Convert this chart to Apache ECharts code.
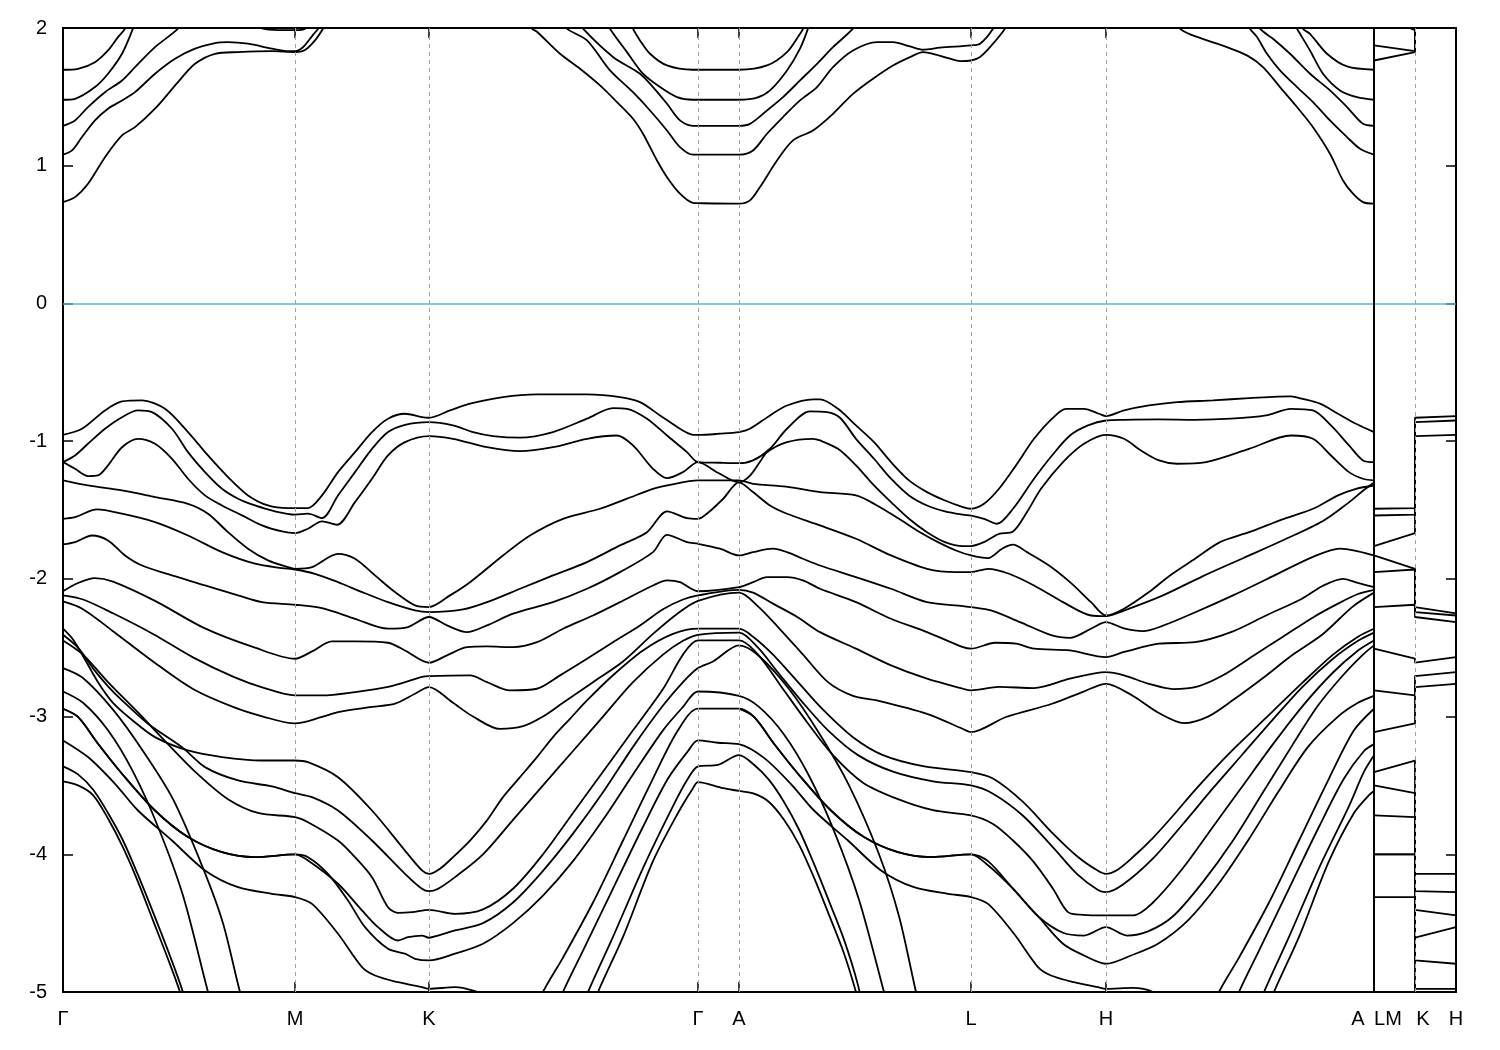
<!DOCTYPE html>
<html><head><meta charset="utf-8">
<script src="https://cdn.jsdelivr.net/npm/echarts@6/dist/echarts.min.js"></script>
<style>html,body{margin:0;padding:0;background:#fff}#chart{width:1500px;height:1050px}</style>
</head><body><div id="chart"></div>
<script>
// k-path positions of high-symmetry points (path distance units)
const kTicks = [0, 232, 366, 635, 676, 908, 1043, 1311, 1352, 1393];
const kGrid = [232, 366, 635, 676, 908, 1043, 1352];
const kBreak = 1311;
const kLabelPos = [0, 232, 366, 635, 676, 908, 1043, 1295, 1325, 1360, 1393];
const kLabelText = ['Γ', 'M', 'K', 'Γ', 'A', 'L', 'H', 'A', 'LM', 'K', 'H'];

// conduction bands (Γ-M-K-Γ-A-L-H-A), energies in eV
const cb1 = [[0,0.736],[12,0.772],[25,0.869],[42,1.062],[59,1.22],[72,1.28],[92,1.414],[115,1.607],[132,1.74],[152,1.813],[175,1.825],[209,1.832],[232,1.825],[242,1.84],[252,1.91],[260,1.995],[268,2.1],[366,2.5],[460,2.1],[469,1.995],[474,1.973],[497,1.813],[517,1.704],[537,1.583],[554,1.462],[570,1.341],[580,1.232],[594,1.038],[604,0.917],[617,0.797],[630,0.73],[635,0.728],[676,0.724],[687,0.748],[697,0.845],[714,1.038],[730,1.184],[750,1.256],[770,1.377],[790,1.522],[810,1.632],[830,1.728],[847,1.789],[860,1.825],[870,1.813],[887,1.777],[897,1.76],[908,1.764],[917,1.79],[927,1.861],[942,1.995],[950,2.1],[1043,2.5],[1110,2.1],[1117,1.995],[1130,1.946],[1144,1.91],[1164,1.861],[1184,1.801],[1200,1.716],[1217,1.571],[1234,1.426],[1250,1.28],[1267,1.087],[1280,0.893],[1290,0.797],[1300,0.736],[1311,0.724]];
const cb2 = [[0,1.08],[9,1.111],[19,1.208],[32,1.329],[45,1.414],[59,1.474],[72,1.534],[92,1.668],[112,1.777],[132,1.85],[152,1.891],[165,1.898],[185,1.886],[209,1.85],[225,1.832],[232,1.832],[240,1.86],[250,1.95],[258,2.02],[265,2.1],[366,2.5],[495,2.1],[504,1.995],[524,1.91],[547,1.692],[570,1.534],[587,1.401],[604,1.256],[617,1.135],[630,1.08],[635,1.08],[676,1.08],[690,1.111],[704,1.232],[720,1.353],[737,1.474],[754,1.571],[770,1.716],[790,1.837],[814,1.898],[830,1.898],[847,1.866],[860,1.842],[877,1.857],[908,1.874],[917,1.886],[930,1.995],[936,2.1],[1043,2.5],[1180,2.1],[1187,1.995],[1194,1.934],[1204,1.813],[1217,1.692],[1234,1.571],[1250,1.462],[1267,1.329],[1284,1.208],[1297,1.123],[1311,1.08]];
const cb3 = [[0,1.29],[12,1.329],[25,1.426],[42,1.534],[59,1.619],[72,1.716],[92,1.861],[115,1.995],[125,2.1],[366,2.5],[510,2.1],[520,1.995],[550,1.79],[577,1.668],[590,1.571],[604,1.45],[617,1.329],[630,1.29],[635,1.29],[676,1.29],[687,1.304],[704,1.401],[720,1.498],[737,1.619],[754,1.74],[770,1.861],[790,1.995],[800,2.1],[1043,2.5],[1190,2.1],[1197,1.995],[1210,1.922],[1227,1.813],[1247,1.668],[1267,1.547],[1284,1.426],[1300,1.304],[1311,1.29]];
const cb4 = [[0,1.479],[12,1.486],[32,1.571],[45,1.668],[59,1.813],[70,1.995],[76,2.1],[366,2.5],[540,2.1],[547,1.995],[564,1.825],[580,1.668],[597,1.571],[614,1.498],[630,1.479],[635,1.479],[676,1.479],[694,1.494],[707,1.547],[724,1.692],[737,1.85],[745,1.995],[750,2.1],[1043,2.5],[1228,2.1],[1234,1.995],[1237,1.958],[1247,1.837],[1260,1.668],[1277,1.547],[1294,1.498],[1311,1.479]];
const cb5 = [[0,1.697],[15,1.704],[32,1.752],[45,1.837],[55,1.934],[62,1.995],[66,2.1],[366,2.5],[565,2.1],[570,1.995],[577,1.91],[587,1.813],[604,1.728],[630,1.697],[635,1.697],[676,1.697],[704,1.728],[724,1.825],[737,1.958],[740,1.995],[744,2.1],[1043,2.5],[1236,2.1],[1240,1.995],[1247,1.958],[1264,1.813],[1284,1.721],[1311,1.697]];
const cb6 = [[180,2.1],[200,1.995],[215,1.985],[232,1.985],[242,1.995],[250,2.1]];

// valence bands
const vb1 = [[0,-0.954],[19,-0.91],[42,-0.777],[59,-0.712],[79,-0.704],[102,-0.765],[125,-0.934],[145,-1.104],[165,-1.261],[185,-1.394],[205,-1.467],[225,-1.486],[232,-1.486],[245,-1.486],[259,-1.394],[275,-1.225],[292,-1.08],[309,-0.934],[325,-0.837],[342,-0.801],[359,-0.826],[366,-0.83],[387,-0.777],[407,-0.728],[440,-0.68],[474,-0.661],[524,-0.661],[557,-0.68],[577,-0.717],[597,-0.813],[617,-0.91],[630,-0.954],[635,-0.955],[657,-0.946],[676,-0.934],[687,-0.91],[707,-0.813],[724,-0.741],[750,-0.697],[757,-0.697],[775,-0.765],[793,-0.886],[811,-1.007],[828,-1.152],[846,-1.285],[864,-1.37],[882,-1.431],[900,-1.479],[908,-1.491],[921,-1.455],[936,-1.346],[953,-1.176],[971,-0.983],[989,-0.837],[1003,-0.765],[1021,-0.765],[1036,-0.801],[1043,-0.818],[1061,-0.777],[1086,-0.741],[1114,-0.717],[1150,-0.704],[1186,-0.688],[1228,-0.675],[1239,-0.692],[1257,-0.728],[1275,-0.801],[1293,-0.874],[1311,-0.934]];
const vb2 = [[0,-1.152],[12,-1.104],[25,-1.019],[42,-0.91],[59,-0.826],[75,-0.777],[89,-0.789],[109,-0.91],[125,-1.08],[142,-1.225],[159,-1.346],[175,-1.418],[192,-1.467],[212,-1.51],[232,-1.534],[245,-1.527],[259,-1.559],[275,-1.394],[292,-1.225],[309,-1.056],[325,-0.934],[342,-0.881],[366,-0.862],[390,-0.886],[410,-0.934],[430,-0.963],[457,-0.975],[490,-0.934],[524,-0.837],[550,-0.76],[564,-0.765],[584,-0.837],[604,-0.959],[624,-1.08],[635,-1.152],[657,-1.157],[676,-1.16],[690,-1.14],[707,-1.055],[724,-0.91],[747,-0.784],[764,-0.789],[777,-0.83],[793,-0.983],[811,-1.128],[828,-1.273],[846,-1.394],[864,-1.467],[882,-1.51],[900,-1.534],[908,-1.54],[921,-1.564],[934,-1.6],[950,-1.491],[971,-1.273],[989,-1.104],[1007,-0.959],[1025,-0.886],[1043,-0.85],[1061,-0.845],[1096,-0.842],[1132,-0.845],[1168,-0.837],[1203,-0.813],[1228,-0.765],[1250,-0.777],[1268,-0.886],[1286,-1.031],[1300,-1.14],[1311,-1.152]];
const vb3 = [[0,-1.152],[12,-1.201],[25,-1.254],[35,-1.249],[45,-1.176],[59,-1.044],[75,-0.983],[92,-1.019],[109,-1.128],[125,-1.273],[142,-1.394],[159,-1.467],[179,-1.539],[199,-1.612],[219,-1.656],[232,-1.668],[245,-1.636],[259,-1.583],[274,-1.607],[292,-1.443],[309,-1.273],[325,-1.104],[342,-1.007],[366,-0.963],[390,-0.983],[424,-1.044],[457,-1.073],[490,-1.044],[524,-0.983],[554,-0.959],[570,-1.031],[590,-1.201],[604,-1.269],[620,-1.225],[635,-1.152],[655,-1.23],[676,-1.3],[687,-1.25],[697,-1.15],[704,-1.08],[724,-1.007],[750,-0.983],[757,-0.995],[775,-1.056],[793,-1.176],[811,-1.322],[828,-1.443],[846,-1.564],[864,-1.661],[882,-1.733],[900,-1.762],[908,-1.762],[921,-1.733],[936,-1.673],[950,-1.656],[964,-1.515],[978,-1.346],[1000,-1.152],[1021,-1.019],[1043,-0.954],[1061,-0.983],[1078,-1.068],[1096,-1.14],[1114,-1.164],[1143,-1.152],[1186,-1.056],[1228,-0.959],[1250,-0.983],[1268,-1.104],[1286,-1.225],[1300,-1.273],[1311,-1.285]];
const vb4 = [[0,-1.285],[25,-1.322],[59,-1.358],[92,-1.406],[125,-1.455],[145,-1.527],[165,-1.661],[185,-1.781],[205,-1.866],[225,-1.915],[232,-1.927],[249,-1.915],[275,-1.818],[292,-1.854],[312,-1.975],[332,-2.096],[352,-2.193],[366,-2.205],[387,-2.12],[407,-2.024],[440,-1.83],[467,-1.685],[500,-1.564],[537,-1.491],[564,-1.418],[590,-1.346],[607,-1.317],[635,-1.285],[676,-1.285],[690,-1.31],[723,-1.33],[757,-1.37],[793,-1.394],[814,-1.467],[836,-1.564],[857,-1.661],[875,-1.733],[893,-1.794],[908,-1.83],[925,-1.849],[939,-1.781],[950,-1.752],[964,-1.806],[986,-1.903],[1007,-2.024],[1028,-2.169],[1043,-2.266],[1061,-2.217],[1086,-2.096],[1107,-1.975],[1132,-1.854],[1157,-1.733],[1186,-1.661],[1221,-1.564],[1250,-1.491],[1275,-1.394],[1293,-1.346],[1311,-1.322]];
const vb5 = [[0,-1.564],[12,-1.552],[34,-1.496],[59,-1.527],[92,-1.588],[125,-1.685],[159,-1.806],[192,-1.89],[219,-1.922],[232,-1.932],[252,-1.963],[275,-2.024],[299,-2.096],[325,-2.169],[352,-2.229],[366,-2.242],[400,-2.222],[424,-2.169],[457,-2.072],[490,-1.975],[524,-1.878],[557,-1.757],[584,-1.661],[604,-1.51],[624,-1.559],[635,-1.564],[645,-1.52],[660,-1.42],[676,-1.3],[690,-1.37],[707,-1.467],[724,-1.527],[757,-1.612],[793,-1.709],[828,-1.83],[864,-1.927],[893,-1.951],[908,-1.951],[925,-1.927],[946,-1.963],[971,-2.048],[1000,-2.169],[1028,-2.266],[1043,-2.271],[1061,-2.23],[1100,-2.12],[1140,-1.98],[1180,-1.85],[1220,-1.72],[1260,-1.58],[1285,-1.45],[1300,-1.36],[1311,-1.3]];
const vb6 = [[0,-1.75],[12,-1.733],[29,-1.685],[45,-1.721],[62,-1.83],[79,-1.903],[109,-1.975],[142,-2.048],[175,-2.12],[199,-2.169],[232,-2.188],[259,-2.213],[292,-2.29],[325,-2.362],[345,-2.35],[366,-2.277],[384,-2.338],[404,-2.387],[424,-2.338],[450,-2.253],[490,-2.169],[524,-2.072],[557,-1.951],[590,-1.806],[604,-1.68],[624,-1.733],[635,-1.745],[657,-1.781],[676,-1.83],[690,-1.806],[710,-1.781],[724,-1.806],[740,-1.854],[757,-1.903],[793,-1.987],[828,-2.072],[864,-2.169],[900,-2.198],[908,-2.205],[928,-2.229],[957,-2.314],[989,-2.411],[1007,-2.428],[1028,-2.362],[1043,-2.314],[1061,-2.36],[1080,-2.38],[1100,-2.34],[1130,-2.25],[1170,-2.12],[1210,-1.98],[1250,-1.84],[1277,-1.78],[1295,-1.8],[1311,-1.83]];
const vb7 = [[0,-2.09],[15,-2.03],[32,-1.995],[50,-2.02],[92,-2.16],[142,-2.36],[192,-2.5],[232,-2.58],[249,-2.527],[269,-2.454],[292,-2.454],[325,-2.464],[342,-2.52],[366,-2.609],[384,-2.556],[404,-2.496],[424,-2.491],[450,-2.496],[474,-2.46],[500,-2.362],[530,-2.266],[557,-2.169],[590,-2.048],[604,-2.011],[617,-2.024],[635,-2.09],[676,-2.06],[690,-2.024],[704,-1.987],[724,-1.987],[740,-2.011],[757,-2.072],[793,-2.169],[828,-2.29],[864,-2.387],[900,-2.496],[908,-2.507],[932,-2.464],[953,-2.471],[971,-2.507],[1007,-2.52],[1043,-2.568],[1061,-2.531],[1096,-2.471],[1132,-2.46],[1168,-2.387],[1203,-2.266],[1239,-2.144],[1260,-2.05],[1280,-2.0],[1295,-2.03],[1311,-2.06]];
const vb8 = [[0,-2.12],[20,-2.15],[50,-2.25],[90,-2.4],[130,-2.57],[170,-2.71],[200,-2.79],[232,-2.846],[259,-2.846],[292,-2.822],[325,-2.785],[359,-2.712],[366,-2.706],[407,-2.701],[424,-2.75],[447,-2.81],[474,-2.798],[497,-2.701],[524,-2.58],[550,-2.46],[577,-2.338],[600,-2.22],[620,-2.15],[635,-2.12],[676,-2.08],[690,-2.1],[710,-2.18],[735,-2.28],[757,-2.387],[793,-2.507],[828,-2.628],[864,-2.725],[900,-2.798],[908,-2.81],[936,-2.785],[971,-2.793],[1007,-2.725],[1043,-2.677],[1061,-2.7],[1085,-2.76],[1110,-2.8],[1135,-2.78],[1160,-2.7],[1190,-2.56],[1220,-2.42],[1250,-2.28],[1275,-2.18],[1295,-2.11],[1311,-2.08]];
const vb9 = [[0,-2.164],[20,-2.22],[50,-2.38],[90,-2.6],[130,-2.8],[170,-2.93],[200,-3.0],[232,-3.05],[259,-3.003],[275,-2.967],[309,-2.93],[332,-2.906],[352,-2.834],[366,-2.786],[390,-2.9],[410,-3.0],[437,-3.09],[460,-3.07],[480,-3.0],[500,-2.9],[530,-2.75],[560,-2.6],[590,-2.4],[615,-2.25],[635,-2.16],[676,-2.1],[695,-2.2],[715,-2.35],[740,-2.55],[765,-2.75],[790,-2.85],[814,-2.883],[864,-2.98],[900,-3.09],[908,-3.113],[943,-3.003],[989,-2.907],[1020,-2.82],[1043,-2.762],[1070,-2.85],[1095,-2.97],[1121,-3.047],[1145,-3.0],[1170,-2.88],[1200,-2.72],[1230,-2.55],[1260,-2.4],[1290,-2.2],[1311,-2.1]];
const vb10 = [[0,-2.362],[10,-2.44],[20,-2.56],[35,-2.75],[50,-2.9],[70,-3.03],[92,-3.149],[125,-3.246],[159,-3.294],[199,-3.319],[232,-3.319],[245,-3.331],[275,-3.44],[309,-3.682],[342,-3.973],[359,-4.117],[366,-4.142],[377,-4.105],[390,-4.021],[407,-3.9],[424,-3.754],[440,-3.585],[457,-3.44],[474,-3.294],[490,-3.149],[507,-3.016],[524,-2.883],[550,-2.7],[580,-2.52],[610,-2.4],[635,-2.362],[676,-2.362],[690,-2.42],[710,-2.55],[735,-2.75],[760,-2.95],[790,-3.15],[820,-3.28],[860,-3.36],[908,-3.403],[930,-3.45],[960,-3.62],[990,-3.85],[1015,-4.02],[1035,-4.12],[1043,-4.142],[1055,-4.11],[1070,-4.02],[1090,-3.88],[1110,-3.72],[1130,-3.55],[1150,-3.39],[1170,-3.24],[1190,-3.1],[1210,-2.96],[1240,-2.75],[1270,-2.55],[1295,-2.42],[1311,-2.362]];
const vb11 = [[0,-2.406],[15,-2.5],[30,-2.65],[45,-2.78],[59,-2.882],[85,-3.052],[119,-3.222],[142,-3.367],[175,-3.464],[209,-3.507],[232,-3.556],[249,-3.585],[275,-3.682],[309,-3.9],[342,-4.142],[359,-4.251],[366,-4.268],[375,-4.251],[392,-4.166],[420,-4.0],[450,-3.75],[480,-3.5],[510,-3.25],[540,-3.0],[570,-2.75],[600,-2.55],[620,-2.45],[635,-2.406],[676,-2.39],[695,-2.5],[715,-2.68],[740,-2.9],[765,-3.1],[795,-3.28],[830,-3.4],[870,-3.47],[908,-3.5],[930,-3.56],[960,-3.72],[990,-3.95],[1015,-4.15],[1035,-4.26],[1043,-4.275],[1060,-4.22],[1090,-4.03],[1120,-3.78],[1150,-3.52],[1180,-3.27],[1210,-3.02],[1240,-2.78],[1270,-2.58],[1295,-2.45],[1311,-2.39]];
const vb12 = [[0,-2.447],[20,-2.55],[45,-2.75],[75,-2.97],[105,-3.2],[135,-3.42],[165,-3.6],[195,-3.7],[232,-3.73],[245,-3.767],[275,-3.9],[292,-4.021],[309,-4.166],[325,-4.384],[335,-4.425],[349,-4.42],[366,-4.403],[392,-4.432],[420,-4.4],[450,-4.25],[480,-4.0],[510,-3.7],[540,-3.4],[570,-3.1],[600,-2.8],[620,-2.55],[635,-2.447],[676,-2.447],[695,-2.55],[720,-2.8],[745,-3.05],[770,-3.28],[800,-3.48],[835,-3.6],[870,-3.68],[908,-3.718],[930,-3.78],[950,-3.9],[970,-4.05],[990,-4.25],[1005,-4.42],[1020,-4.44],[1043,-4.444],[1070,-4.444],[1090,-4.35],[1120,-4.1],[1150,-3.8],[1180,-3.5],[1210,-3.2],[1240,-2.92],[1270,-2.68],[1295,-2.52],[1311,-2.447]];
const vb15 = [[0,-2.943],[15,-3.003],[35,-3.197],[59,-3.415],[92,-3.682],[125,-3.875],[159,-3.985],[192,-4.021],[232,-4.001],[245,-4.045],[275,-4.214],[299,-4.408],[315,-4.529],[335,-4.626],[345,-4.602],[359,-4.59],[366,-4.606],[375,-4.59],[392,-4.553],[420,-4.5],[450,-4.35],[480,-4.12],[510,-3.85],[540,-3.55],[570,-3.22],[600,-2.92],[620,-2.75],[635,-2.648],[650,-2.6],[676,-2.483],[696,-2.56],[726,-2.8],[756,-3.12],[786,-3.5],[816,-4.0],[836,-4.45],[853,-5.0],[860,-5.2]];
const vb15b = [[0,-2.943],[15,-3.003],[35,-3.197],[59,-3.415],[92,-3.682],[125,-3.875],[159,-3.985],[192,-4.021],[232,-4.001],[245,-4.021],[265,-4.142],[285,-4.336],[302,-4.529],[325,-4.686],[342,-4.722],[352,-4.759],[366,-4.771],[392,-4.722],[420,-4.65],[450,-4.5],[480,-4.3],[510,-4.05],[540,-3.75],[570,-3.42],[600,-3.1],[620,-2.93],[635,-2.818],[676,-2.85],[696,-2.93],[721,-3.13],[746,-3.43],[771,-3.83],[796,-4.33],[821,-5.0],[830,-5.25]];
const vb16 = [[0,-3.173],[25,-3.294],[52,-3.488],[75,-3.682],[109,-3.9],[142,-4.117],[175,-4.239],[209,-4.287],[232,-4.311],[249,-4.36],[275,-4.577],[299,-4.819],[312,-4.88],[335,-4.929],[359,-4.965],[366,-4.977],[392,-4.965],[410,-4.99],[430,-5.05],[450,-5.2]];
const gm1 = [[0,-2.648],[20,-2.72],[50,-2.95],[80,-3.25],[110,-3.6],[140,-4.1],[160,-4.5],[177,-5.0],[190,-5.3]];
const gm2 = [[0,-2.818],[20,-2.9],[45,-3.1],[70,-3.4],[95,-3.8],[120,-4.3],[145,-5.0],[155,-5.25]];
const gm5 = [[0,-3.362],[15,-3.42],[30,-3.53],[45,-3.7],[60,-3.9],[75,-4.15],[90,-4.42],[105,-4.7],[119,-4.98],[125,-5.15]];
const gm6 = [[0,-3.471],[15,-3.5],[30,-3.57],[45,-3.74],[60,-3.95],[75,-4.2],[90,-4.48],[105,-4.76],[117,-5.0],[122,-5.15]];
const r1 = [[470,-5.2],[480,-5.0],[500,-4.75],[530,-4.35],[560,-3.9],[590,-3.45],[615,-3.1],[635,-2.943],[676,-2.943],[691,-3.003],[711,-3.197],[735,-3.415],[768,-3.682],[801,-3.875],[835,-3.985],[868,-4.021],[908,-4.0],[925,-4.08],[950,-4.25],[975,-4.45],[1000,-4.57],[1021,-4.59],[1043,-4.529],[1064,-4.59],[1085,-4.56],[1110,-4.45],[1140,-4.2],[1170,-3.9],[1200,-3.55],[1230,-3.2],[1255,-2.92],[1280,-2.7],[1300,-2.55],[1311,-2.483]];
const r1b = [[676,-2.943],[691,-3.003],[711,-3.197],[735,-3.415],[768,-3.682],[801,-3.875],[835,-3.985],[868,-4.021],[908,-4.0],[925,-4.05],[950,-4.25],[975,-4.45],[1000,-4.65],[1021,-4.735],[1043,-4.795],[1068,-4.735],[1095,-4.65],[1125,-4.48],[1155,-4.22],[1185,-3.9],[1215,-3.55],[1245,-3.22],[1275,-3.0],[1295,-2.9],[1311,-2.85]];
const r2 = [[490,-5.2],[500,-5.0],[520,-4.7],[550,-4.25],[580,-3.8],[605,-3.45],[625,-3.25],[635,-3.173],[655,-3.19],[676,-3.2],[701,-3.3],[728,-3.49],[751,-3.682],[785,-3.9],[818,-4.117],[851,-4.239],[885,-4.287],[908,-4.311],[925,-4.36],[951,-4.577],[975,-4.819],[988,-4.88],[1011,-4.929],[1035,-4.965],[1043,-4.977],[1070,-4.97],[1090,-5.0],[1110,-5.1]];
const r3 = [[515,-5.2],[525,-5.0],[550,-4.6],[580,-4.1],[610,-3.65],[625,-3.45],[635,-3.362],[655,-3.35],[676,-3.28],[691,-3.35],[706,-3.46],[721,-3.62],[736,-3.82],[751,-4.07],[766,-4.34],[781,-4.62],[795,-4.95],[800,-5.15]];
const r4 = [[525,-5.2],[535,-5.0],[560,-4.6],[590,-4.05],[615,-3.7],[630,-3.52],[635,-3.476],[660,-3.52],[676,-3.54],[691,-3.56],[706,-3.62],[721,-3.75],[736,-3.93],[751,-4.17],[766,-4.44],[781,-4.72],[793,-5.0],[798,-5.15]];
const ha1 = [[1146,-5.2],[1156,-5.0],[1176,-4.75],[1206,-4.35],[1236,-3.9],[1266,-3.45],[1291,-3.1],[1311,-2.943]];
const ha2 = [[1166,-5.2],[1176,-5.0],[1196,-4.7],[1226,-4.25],[1256,-3.8],[1281,-3.45],[1301,-3.25],[1311,-3.2]];
const ha3 = [[1191,-5.2],[1201,-5.0],[1226,-4.6],[1256,-4.1],[1286,-3.65],[1301,-3.4],[1311,-3.28]];
const ha4 = [[1201,-5.2],[1211,-5.0],[1236,-4.6],[1266,-4.05],[1291,-3.7],[1306,-3.57],[1311,-3.54]];

// right panel: energies at L, M, K, H (sorted band order; values above 2 lie off the chart)
const eL = [2.1, 1.874, 1.764, -1.491, -1.54, -1.762, -1.83, -1.951, -2.205, -2.507, -2.81, -3.113, -3.403, -3.5, -3.718, -4.0, -4.0, -4.311];
const eM = [1.985, 1.832, 1.825, -1.486, -1.534, -1.668, -1.927, -1.932, -2.188, -2.58, -2.846, -3.05, -3.32, -3.556, -3.73, -4.0, -4.0, -4.311];
const eK = [2.6, 2.5, 2.4, -0.83, -0.862, -0.963, -2.205, -2.242, -2.277, -2.609, -2.706, -2.786, -4.142, -4.268, -4.403, -4.606, -4.771, -4.977];
const eH = [2.6, 2.5, 2.4, -0.818, -0.85, -0.954, -2.25, -2.266, -2.314, -2.568, -2.677, -2.762, -4.142, -4.275, -4.444, -4.529, -4.795, -4.977];

const mainBands = [cb1, cb2, cb3, cb4, cb5, cb6, vb1, vb2, vb3, vb4, vb5, vb6, vb7, vb8, vb9, vb10, vb11, vb12, vb15, vb15b, vb16, gm1, gm2, gm5, gm6, r1, r1b, r2, r3, r4, ha1, ha2, ha3, ha4];

const labelMap = {};
kLabelPos.forEach((v, i) => { labelMap[v] = kLabelText[i]; });

const lineStyle = { color: '#000', width: 1.8 };
const series = [];
series.push({
  type: 'line', data: [[0, -10]], symbol: 'none', silent: true, z: 1,
  lineStyle: { width: 0 },
  markLine: {
    silent: true, symbol: ['none', 'none'], label: { show: false }, animation: false,
    data: kGrid.map(k => ({ xAxis: k, lineStyle: { color: '#a0a0a0', type: [4, 4], width: 1 } }))
      .concat([
        { yAxis: 0, lineStyle: { color: '#56b4e9', type: 'solid', width: 1.6 } },
        { xAxis: kBreak, lineStyle: { color: '#000', type: 'solid', width: 2 } }
      ])
  }
});
mainBands.forEach(d => series.push({
  type: 'line', data: d, symbol: 'none', showSymbol: false, smooth: 0.3,
  lineStyle: lineStyle, silent: true, z: 3, clip: true
}));
const kL = 1311, kM = 1352, kH = 1393;
eL.forEach((v, i) => series.push({
  type: 'line', data: [[kL, v], [kM, eM[i]], [kM, eK[i]], [kH, eH[i]]],
  symbol: 'none', showSymbol: false, smooth: false, lineStyle: lineStyle, silent: true, z: 3, clip: true
}));

const axisFont = { fontSize: 20, color: '#000', fontFamily: 'Liberation Sans, Arial, sans-serif' };
const axLine = { show: true, onZero: false, lineStyle: { color: '#000', width: 2 } };
const tickStyle = { color: '#000', width: 1.5 };

const chart = echarts.init(document.getElementById('chart'), null, { renderer: 'canvas' });
chart.setOption({
  animation: false,
  backgroundColor: '#fff',
  grid: { left: 63, right: 44, top: 28, bottom: 58, containLabel: false },
  xAxis: [
    { type: 'value', min: 0, max: 1393, position: 'bottom', axisLine: axLine,
      axisTick: { show: true, inside: true, length: 10, customValues: kTicks, lineStyle: tickStyle },
      axisLabel: Object.assign({ customValues: kLabelPos, formatter: v => labelMap[v] || '', margin: 17, showMinLabel: true, showMaxLabel: true }, axisFont),
      splitLine: { show: false } },
    { type: 'value', min: 0, max: 1393, position: 'top', axisLine: axLine,
      axisTick: { show: true, inside: true, length: 10, customValues: kTicks, lineStyle: tickStyle },
      axisLabel: { show: false }, splitLine: { show: false } }
  ],
  yAxis: [
    { type: 'value', min: -5, max: 2, interval: 1, position: 'left', axisLine: axLine,
      axisTick: { show: true, inside: true, length: 10, lineStyle: tickStyle },
      axisLabel: Object.assign({ margin: 16, formatter: v => String(v) }, axisFont),
      splitLine: { show: false } },
    { type: 'value', min: -5, max: 2, interval: 1, position: 'right', axisLine: axLine,
      axisTick: { show: true, inside: true, length: 10, lineStyle: tickStyle },
      axisLabel: { show: false }, splitLine: { show: false } }
  ],
  series: series
});
</script></body></html>
